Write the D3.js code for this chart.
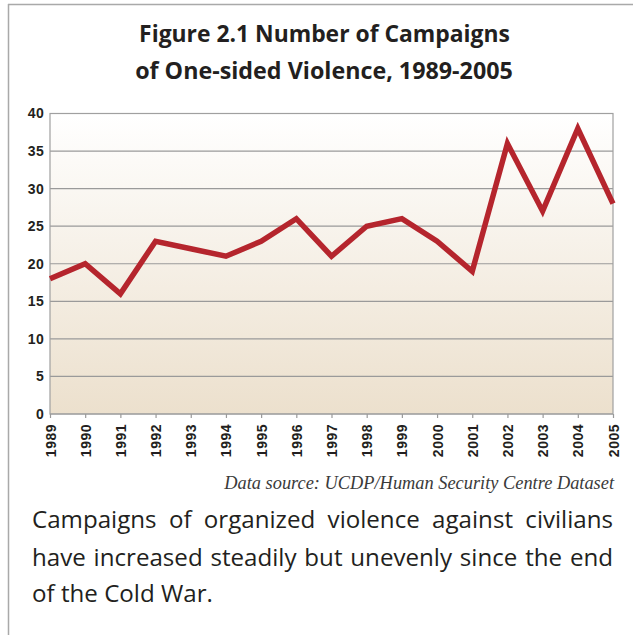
<!DOCTYPE html>
<html>
<head>
<meta charset="utf-8">
<script src="https://cdn.jsdelivr.net/npm/d3@7"></script>
<style>
  html, body { margin: 0; padding: 0; background: #fff; }
  svg { display: block; }
</style>
</head>
<body>
<svg id="chart" width="633" height="635"></svg>
<script>
// One-sided violence campaigns per year
const years = [1989, 1990, 1991, 1992, 1993, 1994, 1995, 1996, 1997, 1998, 1999, 2000, 2001, 2002, 2003, 2004, 2005];
const campaigns = [18, 20, 16, 23, 22, 21, 23, 26, 21, 25, 26, 23, 19, 36, 27, 38, 28];
const yTicks = [0, 5, 10, 15, 20, 25, 30, 35, 40];

const titleLines = ["Figure 2.1 Number of Campaigns", "of One-sided Violence, 1989-2005"];
const sourceText = "Data source: UCDP/Human Security Centre Dataset";
const captionLines = [
  "Campaigns of organized violence against civilians",
  "have increased steadily but unevenly since the end",
  "of the Cold War."
];

const svg = d3.select("#chart");
const W = 633, H = 635;
const plot = { left: 50, right: 613, top: 113.5, bottom: 414 };

const sansFont = "'Open Sans', 'Noto Sans', sans-serif";
const axisFont = "'Liberation Sans', Arial, sans-serif";
const serifFont = "'Liberation Serif', 'DejaVu Serif', serif";

// Panel frame: top and left rules
svg.append("line").attr("x1", 8).attr("x2", W).attr("y1", 4.5).attr("y2", 4.5)
  .attr("stroke", "#a9a9a9").attr("stroke-width", 1.5);
svg.append("line").attr("x1", 8.5).attr("x2", 8.5).attr("y1", 4).attr("y2", H)
  .attr("stroke", "#a9a9a9").attr("stroke-width", 1.5);

// Fit a text element's font size so that it spans the given width
function fitWidth(sel, target, base) {
  sel.attr("font-size", base);
  const w = sel.node().getComputedTextLength();
  const size = base * target / w;
  sel.attr("font-size", size);
  return size;
}

// Title
const titleSpecs = [
  { x0: 139, x1: 510, y: 42.3 },
  { x0: 135, x1: 513, y: 79.3 }
];
titleLines.forEach((t, i) => {
  const s = titleSpecs[i];
  const el = svg.append("text")
    .attr("x", (s.x0 + s.x1) / 2).attr("y", s.y)
    .attr("text-anchor", "middle")
    .attr("font-family", sansFont).attr("font-weight", 700)
    .attr("fill", "#231f20")
    .text(t);
  fitWidth(el, s.x1 - s.x0, 22);
});

// Scales
const x = d3.scalePoint().domain(years).range([plot.left, plot.right]);
const y = d3.scaleLinear().domain([0, 40]).range([plot.bottom, plot.top]);

// Plot background gradient
const defs = svg.append("defs");
const grad = defs.append("linearGradient").attr("id", "bg")
  .attr("x1", 0).attr("x2", 0).attr("y1", 0).attr("y2", 1);
grad.append("stop").attr("offset", "0%").attr("stop-color", "#ffffff");
grad.append("stop").attr("offset", "100%").attr("stop-color", "#ece0cd");
svg.append("rect")
  .attr("x", plot.left).attr("y", plot.top)
  .attr("width", plot.right - plot.left).attr("height", plot.bottom - plot.top)
  .attr("fill", "url(#bg)");

// Horizontal gridlines
svg.append("g").selectAll("line").data(yTicks).join("line")
  .attr("x1", plot.left).attr("x2", plot.right)
  .attr("y1", d => y(d)).attr("y2", d => y(d))
  .attr("stroke", "#9a9a9a").attr("stroke-width", 1.2);

// Plot frame
svg.append("rect")
  .attr("x", plot.left).attr("y", plot.top)
  .attr("width", plot.right - plot.left).attr("height", plot.bottom - plot.top)
  .attr("fill", "none").attr("stroke", "#a0a0a0").attr("stroke-width", 1.2);

// Y axis
const yAxis = svg.append("g")
  .attr("transform", `translate(${plot.left},0)`)
  .call(d3.axisLeft(y).tickValues(yTicks).tickSize(0).tickPadding(6));
yAxis.select(".domain").remove();
yAxis.selectAll("text")
  .attr("font-family", axisFont).attr("font-weight", 700)
  .attr("font-size", 14).attr("letter-spacing", 0.3).attr("fill", "#231f20");

// X axis
const xAxis = svg.append("g")
  .attr("transform", `translate(0,${plot.bottom})`)
  .call(d3.axisBottom(x).tickSize(4).tickPadding(0));
xAxis.select(".domain").remove();
xAxis.selectAll(".tick line").attr("stroke", "#9a9a9a").attr("stroke-width", 1.2);
xAxis.selectAll("text")
  .attr("font-family", axisFont).attr("font-weight", 700)
  .attr("font-size", 14).attr("letter-spacing", 0.5).attr("fill", "#231f20")
  .attr("text-anchor", "end")
  .attr("dy", null)
  .attr("transform", "translate(5,10) rotate(-90)")
  .attr("x", 0).attr("y", 0);

// Data line
svg.append("path")
  .datum(years.map((yr, i) => [yr, campaigns[i]]))
  .attr("fill", "none")
  .attr("stroke", "#b5252d")
  .attr("stroke-width", 5.5)
  .attr("stroke-linejoin", "miter")
  .attr("d", d3.line().x(d => x(d[0])).y(d => y(d[1])));

// Source note
const src = svg.append("text")
  .attr("x", 614).attr("y", 489)
  .attr("text-anchor", "end")
  .attr("font-family", serifFont).attr("font-style", "italic")
  .attr("fill", "#3a3a3a")
  .text(sourceText);
fitWidth(src, 390, 16);

// Caption, justified across the panel width (last line left-aligned)
const cap = { left: 32, right: 613, baselines: [528.3, 565.7, 601.7] };
const capG = svg.append("g").attr("font-family", sansFont).attr("fill", "#231f20");
const probe = capG.append("text").text(captionLines[captionLines.length - 1]);
const capSize = fitWidth(probe, 181, 22);
probe.remove();
capG.attr("font-size", capSize);
const meas = capG.append("text");
const wordWidth = w => { meas.text(w); return meas.node().getComputedTextLength(); };
const spaceW = (() => { meas.text("a a"); const a = meas.node().getComputedTextLength(); meas.text("aa"); return a - meas.node().getComputedTextLength(); })();
const capLines = captionLines.map(l => l.split(" ").map(w => ({ w, ww: wordWidth(w) })));
meas.remove();
capLines.forEach((line, li) => {
  const total = d3.sum(line, d => d.ww);
  const last = li === capLines.length - 1;
  const gap = last ? spaceW : (cap.right - cap.left - total) / (line.length - 1);
  let xx = cap.left;
  line.forEach(d => {
    capG.append("text").attr("x", xx).attr("y", cap.baselines[li]).text(d.w);
    xx += d.ww + gap;
  });
});
</script>
</body>
</html>
